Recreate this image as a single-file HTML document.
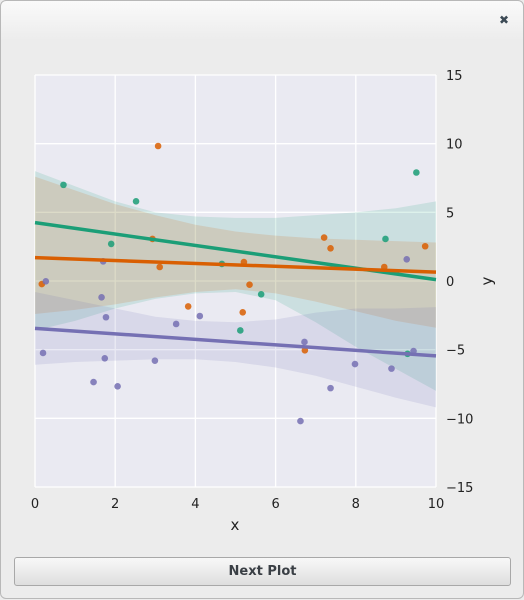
<!DOCTYPE html>
<html><head><meta charset="utf-8"><style>
html,body{margin:0;padding:0;width:524px;height:599px;overflow:hidden;background:#ececec;font-family:"Liberation Sans","DejaVu Sans",sans-serif}
#win{position:absolute;left:0;top:0;width:522px;height:597px;border:1px solid #b8b8b8;border-radius:6px;background:linear-gradient(#fafafa 0,#ececec 40px,#ececec 100%)}
#close{position:absolute;left:498px;top:12px;font-size:12px;color:#3c4a55;font-weight:bold}
#btn{position:absolute;left:13px;top:556px;width:495px;height:27px;border:1px solid #a8a8a8;border-radius:3px;background:linear-gradient(#f8f8f8,#dedede);font-size:13px;font-weight:bold;color:#3a3f45;text-align:center;line-height:27px;font-family:"DejaVu Sans",sans-serif}
svg text{font-family:"DejaVu Sans",sans-serif;font-size:13px;fill:#222}
</style></head><body>
<div id="win">
<div id="close">✖</div>
<svg id="chart" width="524" height="599" style="position:absolute;left:0;top:0"></svg>
<div id="btn">Next Plot</div>
</div>
<script>
const xTicks=[0,2,4,6,8,10];
const yTicks=[-15,-10,-5,0,5,10,15];
const bandX=[0,1,2,3,4,5,6,7,8,9,10];
const greenX=[0.71,2.52,1.90,4.66,5.64,5.12,8.74,9.51,9.29];
const greenY=[7.0,5.8,2.7,1.24,-0.97,-3.6,3.06,7.9,-5.3];
const orangeX=[0.17,3.07,2.93,3.11,3.82,5.21,5.35,5.18,6.73,7.21,7.37,8.71,9.73];
const orangeY=[-0.22,9.83,3.06,1.02,-1.85,1.38,-0.27,-2.28,-5.05,3.16,2.38,1.02,2.53];
const purpleX=[0.27,0.20,1.70,1.66,1.77,1.74,1.46,2.06,2.99,3.52,4.11,6.72,6.62,7.37,7.98,8.89,9.27,9.44];
const purpleY=[-0.02,-5.24,1.43,-1.19,-2.64,-5.63,-7.36,-7.67,-5.8,-3.13,-2.55,-4.44,-10.2,-7.8,-6.05,-6.38,1.58,-5.1];
const greenLine=[4.25,0.1];
const orangeLine=[1.7,0.65];
const purpleLine=[-3.45,-5.45];
const greenUp=[8.0,6.9,5.8,5.0,4.7,4.6,4.6,4.8,5.0,5.3,5.8];
const greenLo=[-3.6,-2.9,-2.0,-1.3,-0.9,-0.8,-1.4,-3.0,-4.8,-6.4,-8.0];
const orangeUp=[7.6,6.6,5.6,4.8,4.1,3.6,3.3,3.1,3.0,2.9,2.8];
const orangeLo=[-2.4,-2.1,-1.7,-1.2,-0.8,-0.6,-0.9,-1.5,-2.2,-2.9,-3.4];
const purpleUp=[-0.8,-1.4,-2.0,-2.6,-2.9,-3.0,-2.8,-2.3,-2.0,-2.0,-1.9];
const purpleLo=[-6.1,-5.9,-5.8,-5.7,-5.7,-5.9,-6.3,-6.9,-7.7,-8.5,-9.2];

const L=34,R=435,T=74,B=486;
const sx=v=>L+(v-0)/10*(R-L);
const sy=v=>B-(v+15)/30*(B-T);
const NS="http://www.w3.org/2000/svg";
const svg=document.getElementById('chart');
function mk(tag,attrs,parent){const e=document.createElementNS(NS,tag);for(const k in attrs)e.setAttribute(k,attrs[k]);(parent||svg).appendChild(e);return e;}

const bg=mk('rect',{x:L,y:T,width:R-L,height:B-T,fill:'#eaeaf2'});


xTicks.forEach(t=>{
  const g=mk('line',{x1:sx(t),x2:sx(t),y1:T,y2:B,stroke:'#fff','stroke-width':1.3});
  
  
  const tx=mk('text',{x:sx(t),y:B+21,'text-anchor':'middle'});tx.textContent=t;
  
  
});
yTicks.forEach(t=>{
  const g=mk('line',{x1:L,x2:R,y1:sy(t),y2:sy(t),stroke:'#fff','stroke-width':1.3});
  
  
  const tx=mk('text',{x:445,y:sy(t)+5,'text-anchor':'start'});tx.textContent=t<0?'\u2212'+(-t):t;
  
  
});
const xl=mk('text',{x:234,y:529,'text-anchor':'middle'});xl.textContent='x';xl.style.fontSize='15px';


const yl=mk('text',{x:0,y:0,'text-anchor':'middle',transform:'translate(491,280) rotate(-90)'});yl.textContent='y';yl.style.fontSize='15px';



const series=[
 ['green','#1b9e77',greenX,greenY,greenLine,greenUp,greenLo],
 ['orange','#d95f02',orangeX,orangeY,orangeLine,orangeUp,orangeLo],
 ['purple','#7570b3',purpleX,purpleY,purpleLine,purpleUp,purpleLo]];
series.forEach(s=>{
  let d='';
  bandX.forEach((x,i)=>{d+=(i?'L':'M')+sx(x)+','+sy(s[5][i]);});
  for(let i=bandX.length-1;i>=0;i--)d+='L'+sx(bandX[i])+','+sy(s[6][i]);
  const b=mk('path',{d:d+'Z',fill:s[1],'fill-opacity':0.15});
  
  
});
series.forEach(s=>{
  s[2].forEach((x,i)=>{
    const c=mk('circle',{cx:sx(x),cy:sy(s[3][i]),r:3.3,fill:s[1],'fill-opacity':0.85});
    
    
  });
});
series.forEach(s=>{
  const l=mk('line',{x1:sx(0),y1:sy(s[4][0]),x2:sx(10),y2:sy(s[4][1]),stroke:s[1],'stroke-width':3.5});
  
  
});
</script>
</body></html>
